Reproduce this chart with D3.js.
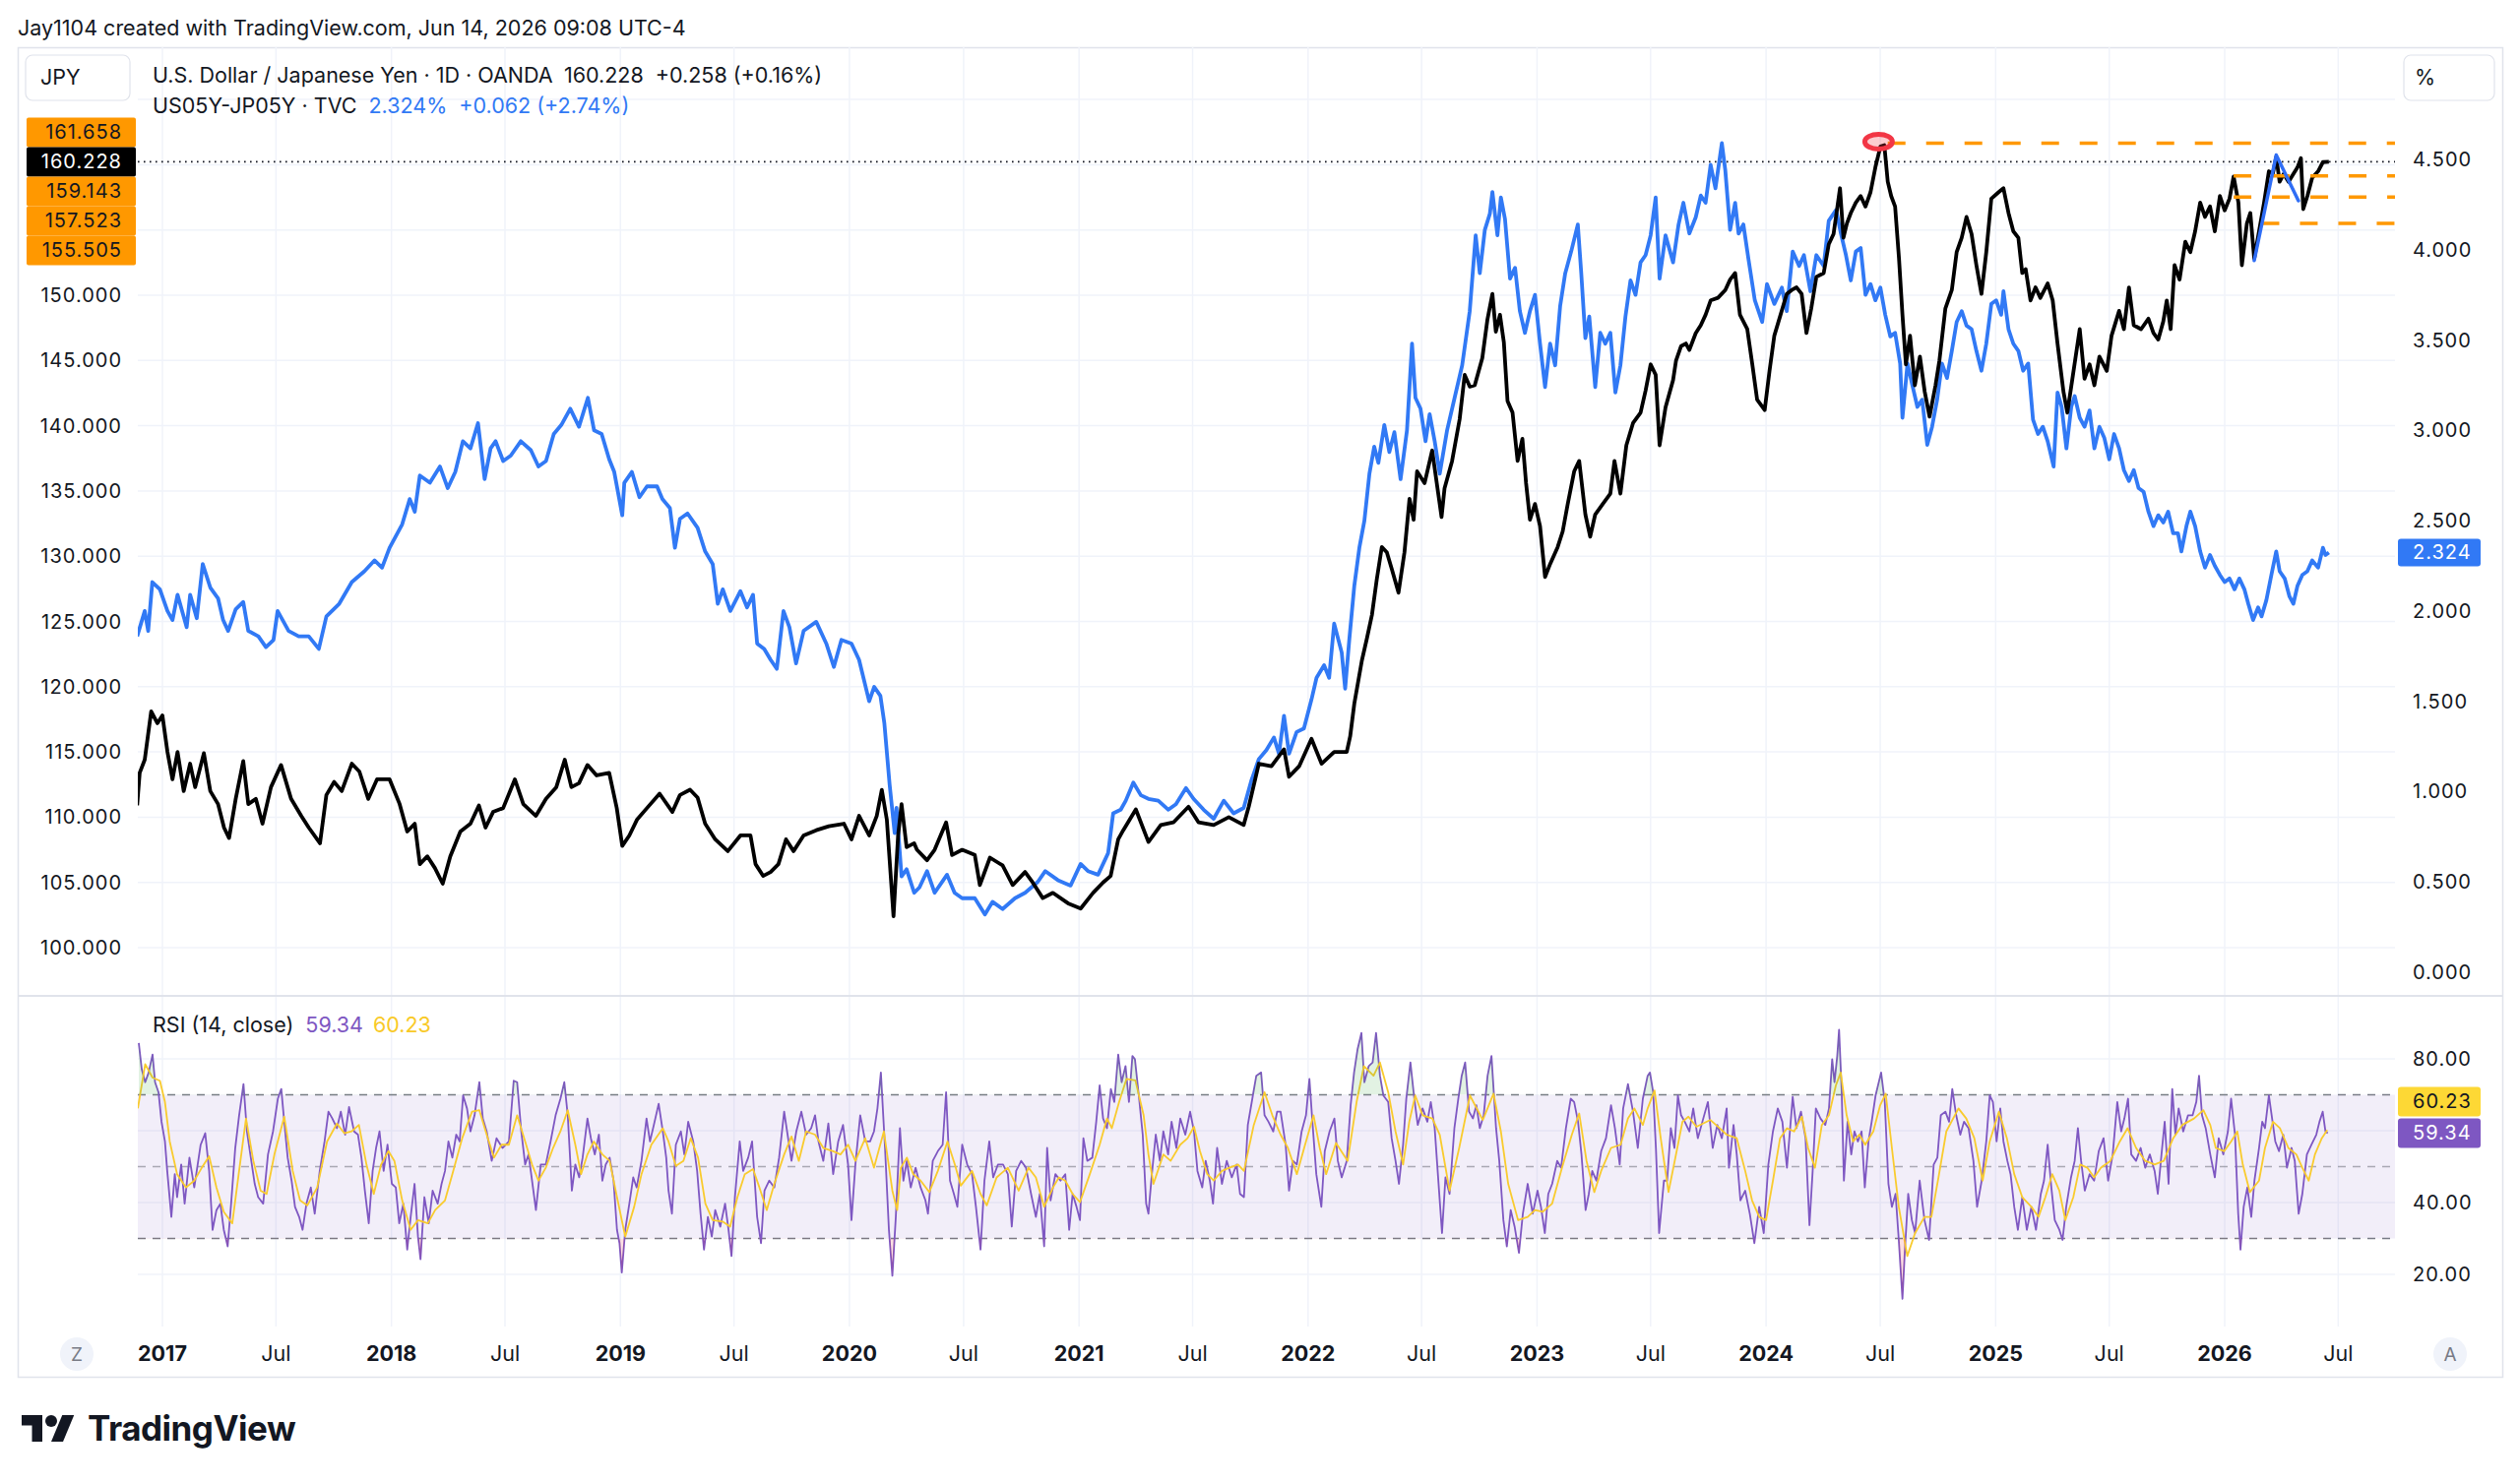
<!DOCTYPE html>
<html><head><meta charset="utf-8">
<script src="https://cdn.jsdelivr.net/npm/d3@7"></script>
<style>html,body{margin:0;padding:0;background:#fff;} svg{display:block;font-family:Inter,"Noto Sans",sans-serif;}</style>
</head><body><svg id="c" width="2560" height="1507"></svg>
<script>
// ---------------- DATA (time as decimal year) ----------------
const usdjpy = [[2016.890,110.9],[2016.901,113.4],[2016.923,114.4],[2016.951,118.1],[2016.978,117.2],[2017.000,117.8],[2017.022,115.0],[2017.044,112.9],[2017.066,115.0],[2017.093,112.0],[2017.121,114.1],[2017.143,112.3],[2017.181,114.9],[2017.209,112.0],[2017.243,111.0],[2017.269,109.2],[2017.291,108.4],[2017.320,111.4],[2017.353,114.3],[2017.375,111.0],[2017.408,111.4],[2017.437,109.5],[2017.474,112.3],[2017.518,114.0],[2017.562,111.4],[2017.606,110.1],[2017.639,109.2],[2017.688,108.0],[2017.716,111.7],[2017.750,112.7],[2017.783,112.0],[2017.827,114.1],[2017.860,113.5],[2017.899,111.4],[2017.937,112.9],[2017.992,112.9],[2018.036,111.0],[2018.069,108.9],[2018.102,109.5],[2018.124,106.4],[2018.157,107.0],[2018.190,106.1],[2018.224,104.9],[2018.257,107.0],[2018.301,108.9],[2018.345,109.5],[2018.382,110.9],[2018.411,109.2],[2018.444,110.4],[2018.488,110.7],[2018.539,112.9],[2018.576,111.0],[2018.631,110.1],[2018.675,111.4],[2018.720,112.3],[2018.757,114.4],[2018.786,112.3],[2018.819,112.6],[2018.856,114.0],[2018.896,113.2],[2018.951,113.4],[2018.984,110.7],[2019.008,107.8],[2019.039,108.6],[2019.072,109.8],[2019.116,110.7],[2019.171,111.8],[2019.227,110.4],[2019.260,111.7],[2019.304,112.1],[2019.337,111.5],[2019.370,109.5],[2019.414,108.3],[2019.469,107.4],[2019.524,108.6],[2019.568,108.6],[2019.590,106.4],[2019.623,105.5],[2019.656,105.8],[2019.690,106.4],[2019.723,108.3],[2019.756,107.4],[2019.800,108.6],[2019.855,109.0],[2019.910,109.3],[2019.976,109.5],[2020.009,108.3],[2020.042,110.1],[2020.086,108.6],[2020.119,110.1],[2020.141,112.1],[2020.163,109.8],[2020.192,102.4],[2020.212,108.6],[2020.227,111.0],[2020.249,107.7],[2020.282,108.0],
[2020.294,107.5],[2020.338,106.7],[2020.371,107.5],[2020.421,109.6],[2020.447,107.1],[2020.491,107.5],[2020.546,107.1],[2020.568,104.8],[2020.612,106.9],[2020.667,106.3],[2020.711,104.8],[2020.765,105.8],[2020.798,105.0],[2020.842,103.8],[2020.886,104.2],[2020.952,103.4],[2021.007,103.0],[2021.061,104.2],[2021.105,105.0],[2021.138,105.5],[2021.171,108.3],[2021.193,109.0],[2021.248,110.6],[2021.303,108.1],[2021.357,109.4],[2021.412,109.6],[2021.478,110.8],[2021.522,109.6],[2021.588,109.4],[2021.654,110.0],[2021.719,109.4],[2021.741,110.8],[2021.785,114.1],[2021.840,113.9],[2021.895,115.2],[2021.917,113.1],[2021.961,113.9],[2022.015,116.0],[2022.059,114.1],[2022.114,115.0],[2022.169,115.0],[2022.184,116.2],[2022.202,118.7],[2022.235,122.0],[2022.257,123.7],[2022.279,125.5],[2022.300,128.2],[2022.322,130.7],[2022.344,130.3],[2022.366,129.0],[2022.395,127.2],[2022.421,130.3],[2022.443,134.4],[2022.461,132.8],[2022.476,136.5],[2022.509,135.6],[2022.542,138.1],[2022.583,133.0],[2022.596,135.2],[2022.629,137.3],[2022.662,140.5],[2022.684,143.9],[2022.706,143.0],[2022.728,143.1],[2022.761,145.2],[2022.783,148.1],[2022.805,150.1],[2022.820,147.2],[2022.838,148.5],[2022.855,146.4],[2022.871,141.9],[2022.893,141.0],[2022.915,137.3],[2022.936,139.0],[2022.952,135.6],[2022.969,132.8],[2022.991,134.0],[2023.013,132.3],[2023.035,128.4],[2023.057,129.4],[2023.090,130.7],[2023.112,131.9],[2023.134,134.0],[2023.162,136.5],[2023.184,137.3],[2023.211,133.2],[2023.232,131.5],[2023.254,133.2],[2023.287,134.0],[2023.320,134.8],[2023.338,137.3],[2023.364,134.8],[2023.390,138.5],[2023.419,140.2],[2023.452,141.0],[2023.474,142.7],[2023.496,144.7],[2023.518,143.9],[2023.535,138.5],[2023.561,141.4],[2023.594,143.5],
[2023.607,145.0],[2023.629,146.1],[2023.650,146.3],[2023.665,145.8],[2023.693,147.1],[2023.715,147.7],[2023.736,148.5],[2023.758,149.6],[2023.790,149.8],[2023.822,150.4],[2023.843,151.2],[2023.865,151.7],[2023.886,148.5],[2023.918,147.4],[2023.940,144.7],[2023.961,142.0],[2023.994,141.2],[2024.015,144.2],[2024.036,146.9],[2024.058,148.2],[2024.090,150.1],[2024.112,150.4],[2024.133,150.6],[2024.155,150.1],[2024.176,147.1],[2024.197,149.0],[2024.219,151.4],[2024.251,151.7],[2024.273,153.9],[2024.294,154.7],[2024.322,158.2],[2024.337,154.4],[2024.352,155.5],[2024.369,156.3],[2024.391,157.1],[2024.412,157.6],[2024.433,156.8],[2024.455,157.9],[2024.476,159.8],[2024.498,161.4],[2024.515,161.5],[2024.530,158.7],[2024.545,157.6],[2024.562,156.8],[2024.579,152.8],[2024.594,148.5],[2024.609,144.7],[2024.627,146.9],[2024.648,143.1],[2024.670,145.3],[2024.691,142.6],[2024.712,140.7],[2024.738,143.1],[2024.755,145.0],[2024.781,149.0],[2024.809,150.4],[2024.830,153.3],[2024.852,154.4],[2024.873,156.0],[2024.895,154.7],[2024.916,152.3],[2024.938,150.1],[2024.959,153.3],[2024.981,157.4],[2025.013,157.9],[2025.034,158.2],[2025.056,156.3],[2025.077,154.9],[2025.099,154.4],[2025.116,151.7],[2025.131,152.0],[2025.152,149.6],[2025.174,150.6],[2025.195,149.8],[2025.227,150.9],[2025.249,149.6],[2025.270,146.3],[2025.296,142.6],[2025.313,141.0],[2025.335,143.6],[2025.367,147.4],[2025.388,143.6],[2025.410,144.7],[2025.431,143.1],[2025.453,145.3],[2025.485,144.2],[2025.506,146.9],[2025.539,148.8],[2025.560,147.4],[2025.582,150.6],[2025.603,147.7],[2025.635,147.4],[2025.667,148.2],[2025.689,147.1],[2025.710,146.6],[2025.732,148.0],[2025.747,149.6],[2025.764,147.4],[2025.781,152.3],[2025.803,151.2],[2025.828,154.1],[2025.850,153.3],[2025.871,154.9],[2025.893,157.1],[2025.914,156.0],[2025.936,156.8],[2025.957,154.9],[2025.979,157.6],[2026.000,156.5],[2026.021,157.4],[2026.039,159.1],[2026.060,157.1],[2026.075,152.3],[2026.097,155.5],[2026.112,156.3],[2026.129,152.8],[2026.150,154.9],[2026.172,157.1],[2026.193,159.5],[2026.210,159.3],[2026.225,160.6],[2026.240,158.7],[2026.258,159.3],[2026.279,158.7],[2026.300,159.3],[2026.318,159.8],[2026.333,160.5],[2026.343,156.6],[2026.361,157.6],[2026.382,159.0],[2026.408,159.5],[2026.429,160.2],[2026.455,160.228]];

const spread = [[2016.890,1.86],[2016.923,2.00],[2016.938,1.89],[2016.956,2.16],[2016.989,2.12],[2017.022,2.00],[2017.044,1.95],[2017.066,2.09],[2017.106,1.91],[2017.121,2.09],[2017.150,1.96],[2017.176,2.26],[2017.209,2.13],[2017.243,2.07],[2017.265,1.95],[2017.287,1.89],[2017.320,2.01],[2017.353,2.05],[2017.375,1.89],[2017.419,1.86],[2017.452,1.80],[2017.485,1.84],[2017.503,2.00],[2017.551,1.89],[2017.595,1.86],[2017.639,1.86],[2017.683,1.79],[2017.716,1.97],[2017.772,2.04],[2017.827,2.16],[2017.882,2.22],[2017.926,2.28],[2017.959,2.24],[2017.992,2.35],[2018.047,2.48],[2018.080,2.62],[2018.102,2.55],[2018.124,2.75],[2018.168,2.71],[2018.212,2.80],[2018.246,2.68],[2018.279,2.77],[2018.312,2.94],[2018.345,2.90],[2018.378,3.04],[2018.407,2.73],[2018.433,2.90],[2018.455,2.94],[2018.488,2.83],[2018.521,2.86],[2018.565,2.94],[2018.609,2.89],[2018.642,2.80],[2018.675,2.83],[2018.709,2.98],[2018.742,3.03],[2018.781,3.12],[2018.819,3.02],[2018.858,3.18],[2018.885,3.00],[2018.918,2.98],[2018.951,2.84],[2018.973,2.77],[2019.008,2.53],[2019.017,2.71],[2019.050,2.77],[2019.083,2.63],[2019.116,2.69],[2019.160,2.69],[2019.183,2.62],[2019.216,2.57],[2019.238,2.35],[2019.260,2.51],[2019.293,2.54],[2019.337,2.46],[2019.370,2.33],[2019.403,2.26],[2019.425,2.04],[2019.447,2.12],[2019.480,2.00],[2019.524,2.11],[2019.553,2.02],[2019.579,2.09],[2019.597,1.82],[2019.628,1.79],[2019.656,1.73],[2019.683,1.68],[2019.712,2.00],[2019.738,1.91],[2019.767,1.71],[2019.800,1.89],[2019.855,1.94],[2019.899,1.82],[2019.932,1.69],[2019.965,1.84],[2020.009,1.82],[2020.042,1.73],[2020.086,1.50],[2020.108,1.58],[2020.135,1.53],[2020.152,1.38],[2020.175,1.04],[2020.197,0.77],[2020.205,0.91],[2020.227,0.53],[2020.249,0.57],[2020.282,0.44],
[2020.305,0.47],[2020.338,0.56],[2020.371,0.44],[2020.425,0.54],[2020.458,0.44],[2020.491,0.41],[2020.546,0.41],[2020.590,0.32],[2020.623,0.39],[2020.667,0.35],[2020.721,0.41],[2020.765,0.44],[2020.820,0.50],[2020.853,0.56],[2020.908,0.51],[2020.963,0.48],[2021.007,0.60],[2021.039,0.56],[2021.083,0.54],[2021.127,0.66],[2021.149,0.88],[2021.182,0.90],[2021.204,0.95],[2021.237,1.05],[2021.270,0.98],[2021.303,0.96],[2021.346,0.95],[2021.390,0.90],[2021.423,0.93],[2021.467,1.02],[2021.500,0.96],[2021.544,0.90],[2021.588,0.85],[2021.632,0.95],[2021.675,0.88],[2021.719,0.91],[2021.752,1.06],[2021.785,1.18],[2021.818,1.23],[2021.851,1.30],[2021.873,1.21],[2021.895,1.42],[2021.917,1.21],[2021.950,1.33],[2021.982,1.35],[2022.015,1.51],[2022.037,1.63],[2022.070,1.70],[2022.092,1.63],[2022.114,1.93],[2022.147,1.77],[2022.162,1.57],[2022.180,1.84],[2022.202,2.14],[2022.224,2.35],[2022.246,2.50],[2022.268,2.76],[2022.289,2.91],[2022.307,2.82],[2022.333,3.03],[2022.355,2.88],[2022.377,2.99],[2022.404,2.73],[2022.432,3.00],[2022.454,3.48],[2022.469,3.18],[2022.491,3.12],[2022.513,2.94],[2022.531,3.09],[2022.553,2.94],[2022.575,2.76],[2022.607,3.00],[2022.640,3.18],[2022.673,3.36],[2022.706,3.66],[2022.732,4.08],[2022.750,3.87],[2022.772,4.11],[2022.794,4.20],[2022.805,4.32],[2022.827,4.08],[2022.842,4.29],[2022.860,4.17],[2022.882,3.84],[2022.904,3.90],[2022.925,3.66],[2022.947,3.54],[2022.969,3.66],[2022.991,3.75],[2023.013,3.48],[2023.035,3.24],[2023.057,3.48],[2023.079,3.36],[2023.101,3.69],[2023.123,3.87],[2023.149,3.99],[2023.178,4.14],[2023.193,3.87],[2023.211,3.51],[2023.228,3.63],[2023.254,3.24],[2023.276,3.54],[2023.298,3.48],[2023.320,3.54],[2023.342,3.21],[2023.364,3.36],[2023.386,3.63],[2023.408,3.83],[2023.430,3.75],[2023.452,3.93],[2023.474,3.97],[2023.496,4.08],[2023.518,4.29],[2023.535,3.84],[2023.561,4.08],[2023.594,3.93],
[2023.618,4.14],[2023.639,4.26],[2023.665,4.09],[2023.693,4.18],[2023.715,4.30],[2023.736,4.26],[2023.758,4.47],[2023.779,4.34],[2023.807,4.59],[2023.822,4.44],[2023.843,4.11],[2023.865,4.26],[2023.880,4.09],[2023.901,4.14],[2023.923,3.95],[2023.951,3.72],[2023.983,3.60],[2024.004,3.81],[2024.036,3.70],[2024.069,3.79],[2024.090,3.66],[2024.116,3.99],[2024.144,3.91],[2024.165,3.97],[2024.193,3.77],[2024.219,3.97],[2024.251,3.91],[2024.273,4.16],[2024.305,4.22],[2024.326,4.09],[2024.348,3.97],[2024.369,3.83],[2024.391,3.99],[2024.412,4.01],[2024.433,3.75],[2024.455,3.81],[2024.476,3.72],[2024.498,3.79],[2024.519,3.64],[2024.541,3.52],[2024.562,3.54],[2024.584,3.37],[2024.594,3.07],[2024.616,3.37],[2024.637,3.25],[2024.659,3.13],[2024.680,3.17],[2024.702,2.92],[2024.723,3.02],[2024.745,3.17],[2024.766,3.37],[2024.788,3.29],[2024.809,3.44],[2024.830,3.60],[2024.852,3.66],[2024.873,3.58],[2024.895,3.56],[2024.916,3.44],[2024.938,3.33],[2024.959,3.48],[2024.981,3.70],[2025.002,3.72],[2025.024,3.64],[2025.034,3.77],[2025.056,3.56],[2025.077,3.48],[2025.099,3.44],[2025.120,3.33],[2025.142,3.37],[2025.163,3.06],[2025.185,2.98],[2025.206,3.02],[2025.227,2.94],[2025.253,2.80],[2025.270,3.21],[2025.288,3.13],[2025.309,2.90],[2025.330,3.13],[2025.345,3.19],[2025.367,3.07],[2025.388,3.02],[2025.410,3.11],[2025.431,2.90],[2025.453,3.02],[2025.474,2.96],[2025.496,2.84],[2025.517,2.98],[2025.539,2.90],[2025.560,2.78],[2025.582,2.72],[2025.603,2.78],[2025.624,2.68],[2025.646,2.66],[2025.667,2.55],[2025.689,2.47],[2025.710,2.53],[2025.732,2.49],[2025.753,2.55],[2025.775,2.43],[2025.796,2.43],[2025.811,2.33],[2025.833,2.47],[2025.850,2.55],[2025.871,2.47],[2025.893,2.33],[2025.914,2.24],[2025.936,2.31],[2025.957,2.25],[2025.979,2.20],[2026.000,2.16],[2026.021,2.18],[2026.043,2.12],[2026.064,2.18],[2026.086,2.12],[2026.103,2.04],[2026.124,1.95],[2026.146,2.02],[2026.161,1.97],[2026.182,2.06],[2026.204,2.20],[2026.225,2.33],[2026.240,2.22],[2026.262,2.18],[2026.283,2.08],[2026.300,2.04],[2026.318,2.14],[2026.339,2.20],[2026.361,2.22],[2026.382,2.28],[2026.408,2.24],[2026.429,2.35],[2026.440,2.31],[2026.455,2.324]];

const rsi = [[2016.897,84.4],[2016.910,77.1],[2016.925,73.5],[2016.940,76.2],[2016.957,81.2],[2016.968,73.5],[2016.983,70.7],[2016.996,62.5],[2017.011,57.0],[2017.021,48.8],[2017.039,36.0],[2017.054,47.9],[2017.064,41.5],[2017.082,50.6],[2017.097,39.7],[2017.118,52.5],[2017.139,44.2],[2017.167,56.1],[2017.187,59.3],[2017.204,48.8],[2017.219,32.4],[2017.236,37.9],[2017.253,39.7],[2017.268,32.4],[2017.285,27.8],[2017.300,39.7],[2017.318,55.2],[2017.335,64.3],[2017.354,73.0],[2017.369,59.8],[2017.386,52.5],[2017.403,45.2],[2017.418,41.5],[2017.440,39.7],[2017.461,53.4],[2017.483,59.8],[2017.504,68.9],[2017.519,71.6],[2017.532,62.5],[2017.547,52.5],[2017.564,46.1],[2017.579,38.8],[2017.597,36.0],[2017.612,32.4],[2017.629,39.7],[2017.648,44.2],[2017.665,36.9],[2017.687,48.8],[2017.708,57.0],[2017.725,65.3],[2017.742,63.4],[2017.762,60.7],[2017.779,65.3],[2017.798,58.9],[2017.815,66.6],[2017.837,59.8],[2017.854,58.9],[2017.869,52.5],[2017.884,43.3],[2017.901,34.2],[2017.918,48.8],[2017.933,55.2],[2017.948,59.8],[2017.966,48.8],[2017.983,56.1],[2018.002,45.2],[2018.019,44.2],[2018.034,34.2],[2018.052,39.7],[2018.069,26.9],[2018.084,36.0],[2018.101,45.2],[2018.116,30.5],[2018.127,24.2],[2018.144,41.5],[2018.163,34.2],[2018.180,43.3],[2018.202,39.7],[2018.219,45.2],[2018.234,48.8],[2018.249,57.0],[2018.266,52.5],[2018.283,58.9],[2018.298,57.0],[2018.313,69.8],[2018.330,66.2],[2018.345,59.8],[2018.363,64.3],[2018.384,73.5],[2018.399,63.4],[2018.416,59.8],[2018.438,51.6],[2018.459,57.9],[2018.485,55.2],[2018.513,57.0],[2018.534,73.9],[2018.549,73.5],[2018.567,59.8],[2018.584,50.6],[2018.599,53.4],[2018.614,46.1],[2018.631,37.9],[2018.652,50.6],[2018.674,50.6],[2018.695,57.0],[2018.717,64.3],[2018.738,68.9],[2018.755,73.5],[2018.770,64.3],[2018.788,43.3],[2018.803,50.6],[2018.820,47.0],[2018.835,52.5],[2018.856,63.4],[2018.871,57.9],[2018.888,53.4],[2018.906,58.9],[2018.921,46.1],[2018.936,50.6],[2018.953,52.5],[2018.970,46.1],[2018.985,32.4],[2018.996,28.7],[2019.006,20.5],[2019.021,32.4],[2019.039,39.7],[2019.056,47.0],[2019.071,44.2],[2019.092,51.6],[2019.114,63.4],[2019.129,57.0],[2019.146,61.6],[2019.167,67.5],[2019.185,59.8],[2019.200,52.5],[2019.210,43.3],[2019.225,36.9],[2019.242,56.1],[2019.264,59.8],[2019.279,53.4],[2019.296,62.5],[2019.318,57.0],[2019.335,48.8],[2019.350,36.9],[2019.365,26.9],[2019.382,36.0],[2019.399,30.5],[2019.414,37.9],[2019.436,33.3],[2019.457,39.7],[2019.472,32.4],[2019.485,25.1],[2019.500,41.5],[2019.521,57.0],[2019.536,48.8],[2019.558,52.5],[2019.575,57.0],[2019.597,36.0],[2019.614,28.7],[2019.629,43.3],[2019.650,46.1],[2019.672,44.2],[2019.693,52.5],[2019.715,65.3],[2019.730,58.9],[2019.747,51.6],[2019.768,59.8],[2019.790,65.3],[2019.811,58.9],[2019.833,60.7],[2019.850,64.3],[2019.865,57.0],[2019.886,51.6],[2019.908,62.0],[2019.929,47.9],[2019.951,57.0],[2019.972,61.6],[2019.994,50.6],[2020.009,35.1],[2020.026,50.6],[2020.047,64.3],[2020.069,57.0],[2020.090,57.0],[2020.107,59.8],[2020.122,66.2],[2020.137,76.2],[2020.155,55.2],[2020.172,32.4],[2020.187,19.6],[2020.202,36.0],
[2020.220,60.7],[2020.235,46.1],[2020.250,51.6],[2020.267,44.2],[2020.288,49.7],[2020.310,44.2],[2020.331,40.6],[2020.342,36.9],[2020.363,51.6],[2020.385,54.3],[2020.406,56.1],[2020.421,70.7],[2020.438,46.1],[2020.455,42.4],[2020.470,38.8],[2020.491,56.1],[2020.513,50.6],[2020.534,47.9],[2020.551,38.8],[2020.571,26.9],[2020.588,46.1],[2020.609,57.0],[2020.626,47.0],[2020.647,50.6],[2020.669,50.6],[2020.690,47.9],[2020.707,33.3],[2020.726,48.8],[2020.748,51.6],[2020.769,49.7],[2020.791,42.4],[2020.812,36.0],[2020.829,42.4],[2020.848,27.8],[2020.861,55.2],[2020.876,40.6],[2020.897,47.9],[2020.919,46.1],[2020.940,47.9],[2020.957,32.4],[2020.972,42.4],[2020.989,38.8],[2021.004,35.1],[2021.019,57.9],[2021.036,51.6],[2021.058,52.5],[2021.075,62.5],[2021.090,72.6],[2021.105,63.4],[2021.122,60.7],[2021.139,71.6],[2021.154,68.0],[2021.171,81.2],[2021.186,73.5],[2021.203,78.0],[2021.218,68.0],[2021.233,80.8],[2021.244,79.9],[2021.261,69.8],[2021.278,58.9],[2021.293,39.7],[2021.303,36.9],[2021.318,47.9],[2021.335,58.9],[2021.353,51.6],[2021.368,59.8],[2021.389,53.4],[2021.404,62.5],[2021.425,55.2],[2021.442,63.4],[2021.464,58.9],[2021.485,65.3],[2021.502,59.8],[2021.517,48.8],[2021.538,44.2],[2021.553,51.6],[2021.571,46.1],[2021.585,39.7],[2021.603,55.2],[2021.624,45.2],[2021.645,51.6],[2021.667,47.0],[2021.688,50.6],[2021.703,42.4],[2021.720,41.5],[2021.737,61.6],[2021.759,69.8],[2021.774,75.3],[2021.795,76.2],[2021.810,64.3],[2021.827,62.5],[2021.848,59.8],[2021.865,65.3],[2021.880,65.3],[2021.902,56.1],[2021.917,43.3],[2021.934,51.6],[2021.951,50.6],[2021.972,59.8],[2021.991,64.3],[2022.006,74.4],[2022.019,62.5],[2022.036,47.9],[2022.058,38.8],[2022.073,54.3],[2022.094,59.8],[2022.115,63.4],[2022.130,51.6],[2022.147,47.0],[2022.169,51.6],[2022.186,67.1],[2022.201,76.2],[2022.216,82.6],[2022.233,87.2],[2022.246,73.5],[2022.265,78.0],[2022.282,79.0],[2022.297,87.2],[2022.314,75.3],[2022.329,69.8],[2022.350,68.0],[2022.365,57.9],[2022.382,51.6],[2022.397,45.2],[2022.415,56.1],[2022.429,68.9],[2022.447,79.0],[2022.464,68.9],[2022.479,61.6],[2022.500,66.2],[2022.521,62.5],[2022.536,68.0],[2022.553,60.7],[2022.571,44.2],[2022.585,31.5],[2022.600,47.0],[2022.618,42.4],[2022.639,60.7],[2022.656,68.9],[2022.671,75.3],[2022.686,79.0],[2022.703,65.3],[2022.720,63.4],[2022.735,67.1],[2022.750,60.7],[2022.767,64.3],[2022.784,75.3],[2022.801,80.8],[2022.821,60.7],[2022.835,51.6],[2022.853,35.1],[2022.868,27.8],[2022.885,37.9],[2022.902,33.3],[2022.921,26.0],[2022.938,36.9],[2022.959,45.2],[2022.981,36.9],[2023.002,43.3],[2023.017,38.8],[2023.034,31.5],[2023.049,42.4],[2023.066,45.2],[2023.088,51.6],[2023.105,49.7],[2023.126,60.7],[2023.147,68.9],[2023.162,68.0],[2023.179,62.5],[2023.194,53.4],[2023.212,37.9],[2023.226,42.4],[2023.241,48.8],[2023.259,46.1],[2023.280,54.3],[2023.301,57.9],[2023.323,67.1],[2023.340,60.7],[2023.361,50.6],[2023.376,66.2],[2023.397,73.0],[2023.419,65.3],[2023.440,55.2],[2023.462,68.9],
[2023.483,75.3],[2023.493,76.2],[2023.507,70.7],[2023.519,55.2],[2023.533,31.5],[2023.554,46.1],[2023.568,46.1],[2023.584,60.7],[2023.600,55.2],[2023.615,69.8],[2023.629,64.3],[2023.645,62.5],[2023.665,59.8],[2023.682,66.2],[2023.702,57.9],[2023.722,62.5],[2023.746,68.0],[2023.767,55.2],[2023.787,61.6],[2023.807,57.9],[2023.828,66.2],[2023.838,49.7],[2023.858,61.6],[2023.872,53.4],[2023.888,40.6],[2023.909,43.3],[2023.929,36.9],[2023.949,28.7],[2023.970,38.8],[2023.990,31.5],[2024.010,50.6],[2024.030,59.8],[2024.051,66.2],[2024.071,62.5],[2024.091,49.7],[2024.116,69.4],[2024.132,60.7],[2024.152,65.3],[2024.172,57.9],[2024.189,33.7],[2024.203,48.8],[2024.217,66.2],[2024.237,63.4],[2024.258,61.6],[2024.274,66.2],[2024.288,79.9],[2024.298,73.5],[2024.310,80.8],[2024.318,88.1],[2024.329,71.6],[2024.339,46.1],[2024.355,62.5],[2024.371,53.4],[2024.385,59.8],[2024.400,57.0],[2024.416,59.8],[2024.430,44.2],[2024.446,57.0],[2024.460,62.5],[2024.477,69.8],[2024.501,76.2],[2024.517,68.0],[2024.533,45.2],[2024.548,38.8],[2024.564,42.4],[2024.578,29.6],[2024.594,13.2],[2024.604,26.0],[2024.619,42.4],[2024.635,35.1],[2024.649,31.5],[2024.669,46.1],[2024.690,35.1],[2024.710,29.6],[2024.730,50.6],[2024.746,52.5],[2024.761,64.3],[2024.781,65.3],[2024.797,62.5],[2024.811,71.6],[2024.828,64.3],[2024.846,58.9],[2024.862,62.5],[2024.882,60.7],[2024.903,51.6],[2024.919,38.8],[2024.939,46.1],[2024.959,57.0],[2024.974,69.8],[2024.988,68.0],[2025.004,57.0],[2025.020,66.2],[2025.034,57.0],[2025.051,51.6],[2025.065,47.9],[2025.081,38.8],[2025.097,32.4],[2025.116,41.5],[2025.136,32.4],[2025.156,38.8],[2025.176,32.4],[2025.197,42.4],[2025.211,46.1],[2025.227,56.1],[2025.243,44.2],[2025.258,35.1],[2025.278,32.4],[2025.292,29.6],[2025.308,38.8],[2025.329,47.0],[2025.345,51.6],[2025.359,60.7],[2025.373,51.6],[2025.389,43.3],[2025.410,47.9],[2025.430,46.1],[2025.450,54.3],[2025.471,57.9],[2025.491,46.1],[2025.511,53.4],[2025.531,68.0],[2025.548,59.8],[2025.562,63.4],[2025.578,68.9],[2025.592,53.4],[2025.613,51.6],[2025.633,55.2],[2025.653,49.7],[2025.673,53.4],[2025.694,48.8],[2025.708,42.4],[2025.724,53.4],[2025.738,62.5],[2025.755,45.2],[2025.771,71.6],[2025.785,58.9],[2025.799,66.2],[2025.819,59.8],[2025.840,64.3],[2025.860,64.3],[2025.876,68.0],[2025.888,75.3],[2025.901,64.3],[2025.917,60.7],[2025.937,53.4],[2025.957,47.0],[2025.974,57.9],[2025.994,53.4],[2026.014,59.8],[2026.028,68.9],[2026.045,58.9],[2026.059,36.9],[2026.069,26.9],[2026.083,38.8],[2026.099,44.2],[2026.116,36.0],[2026.130,46.1],[2026.150,55.2],[2026.164,62.5],[2026.176,60.7],[2026.193,69.8],[2026.209,62.5],[2026.221,57.0],[2026.237,54.3],[2026.256,58.9],[2026.272,49.7],[2026.292,55.2],[2026.306,51.6],[2026.323,36.9],[2026.339,42.4],[2026.359,53.4],[2026.379,56.1],[2026.400,58.9],[2026.414,62.5],[2026.428,65.3],[2026.440,59.8],[2026.450,59.34]];

const rsiMA = [[2016.893,66.2],[2016.925,78.5],[2016.957,74.8],[2016.989,73.9],[2017.011,68.0],[2017.032,57.0],[2017.064,47.9],[2017.103,44.2],[2017.139,46.1],[2017.172,49.7],[2017.204,52.9],[2017.236,44.2],[2017.268,37.4],[2017.305,34.2],[2017.333,47.9],[2017.365,63.4],[2017.397,51.6],[2017.429,43.3],[2017.455,42.4],[2017.489,53.4],[2017.532,63.9],[2017.569,48.8],[2017.601,40.6],[2017.633,39.2],[2017.676,44.2],[2017.719,57.0],[2017.762,62.0],[2017.794,59.3],[2017.826,59.8],[2017.858,61.6],[2017.891,50.6],[2017.923,42.4],[2017.955,50.6],[2017.987,54.3],[2018.013,51.6],[2018.047,40.6],[2018.084,32.4],[2018.116,35.1],[2018.159,34.2],[2018.191,37.9],[2018.234,40.6],[2018.266,47.9],[2018.309,57.9],[2018.352,65.3],[2018.384,65.7],[2018.416,58.9],[2018.448,52.5],[2018.481,56.1],[2018.513,56.1],[2018.549,64.3],[2018.584,57.0],[2018.614,50.6],[2018.642,46.1],[2018.674,49.7],[2018.706,55.2],[2018.738,59.8],[2018.770,65.7],[2018.803,56.1],[2018.828,47.9],[2018.856,53.4],[2018.884,57.0],[2018.921,53.4],[2018.953,51.6],[2018.985,41.5],[2019.021,30.5],[2019.060,38.8],[2019.092,47.9],[2019.135,56.1],[2019.185,60.7],[2019.210,57.0],[2019.242,50.2],[2019.275,51.6],[2019.307,57.9],[2019.339,52.5],[2019.371,39.7],[2019.403,35.1],[2019.446,34.7],[2019.479,33.3],[2019.511,41.5],[2019.543,47.9],[2019.579,49.3],[2019.607,44.2],[2019.639,37.9],[2019.672,45.2],[2019.715,53.4],[2019.747,58.4],[2019.779,51.6],[2019.811,59.8],[2019.850,58.9],[2019.886,55.2],[2019.929,54.3],[2019.961,53.4],[2019.994,56.1],[2020.026,51.6],[2020.069,57.9],[2020.107,49.7],[2020.150,59.8],[2020.187,43.3],[2020.208,37.9],
[2020.224,49.7],[2020.250,52.5],[2020.278,47.9],[2020.310,46.1],[2020.348,42.9],[2020.385,48.8],[2020.427,57.0],[2020.459,50.6],[2020.485,44.7],[2020.534,48.8],[2020.571,42.4],[2020.598,39.2],[2020.641,47.0],[2020.690,49.7],[2020.737,43.3],[2020.780,49.7],[2020.812,47.0],[2020.848,38.8],[2020.887,44.2],[2020.912,47.0],[2020.940,46.1],[2020.972,42.4],[2021.004,40.1],[2021.047,47.9],[2021.090,56.1],[2021.122,63.4],[2021.143,60.7],[2021.175,68.0],[2021.207,74.4],[2021.246,74.0],[2021.282,64.3],[2021.303,53.4],[2021.325,45.2],[2021.368,53.4],[2021.400,51.6],[2021.442,56.1],[2021.474,57.9],[2021.502,61.1],[2021.528,54.3],[2021.560,47.9],[2021.588,46.1],[2021.624,48.8],[2021.656,49.7],[2021.694,50.6],[2021.720,48.8],[2021.763,61.6],[2021.810,70.7],[2021.844,64.3],[2021.880,58.9],[2021.912,55.2],[2021.951,47.9],[2021.987,56.1],[2022.024,64.3],[2022.051,55.2],[2022.079,47.9],[2022.122,56.6],[2022.173,51.6],[2022.212,68.0],[2022.244,78.0],[2022.286,75.3],[2022.314,79.0],[2022.350,70.7],[2022.382,59.8],[2022.415,50.6],[2022.442,62.5],[2022.468,69.8],[2022.500,64.3],[2022.543,63.4],[2022.575,58.9],[2022.618,43.3],[2022.660,55.2],[2022.707,69.8],[2022.763,63.0],[2022.810,70.3],[2022.842,59.8],[2022.874,45.2],[2022.917,35.1],[2022.959,36.0],[2022.991,37.9],[2023.024,37.4],[2023.066,39.7],[2023.109,49.7],[2023.152,58.9],[2023.184,64.8],[2023.216,51.6],[2023.250,42.9],[2023.280,48.8],[2023.323,55.2],[2023.365,56.1],[2023.397,63.4],[2023.425,66.2],[2023.462,61.6],
[2023.483,66.2],[2023.513,71.2],[2023.540,57.9],[2023.574,42.9],[2023.604,52.5],[2023.635,62.5],[2023.661,63.9],[2023.696,61.1],[2023.757,63.0],[2023.797,60.7],[2023.828,58.9],[2023.872,57.9],[2023.909,48.8],[2023.939,40.6],[2023.970,36.0],[2024.000,35.1],[2024.030,46.1],[2024.061,57.9],[2024.091,60.7],[2024.122,59.8],[2024.156,63.9],[2024.183,55.2],[2024.213,49.7],[2024.243,61.6],[2024.274,64.3],[2024.304,72.6],[2024.325,76.2],[2024.351,64.3],[2024.379,57.0],[2024.406,58.9],[2024.432,56.1],[2024.467,59.8],[2024.497,67.1],[2024.521,70.3],[2024.548,55.2],[2024.578,38.8],[2024.615,25.1],[2024.649,31.5],[2024.690,36.0],[2024.720,36.0],[2024.751,47.0],[2024.785,59.8],[2024.838,66.2],[2024.872,63.4],[2024.907,57.9],[2024.943,46.1],[2024.974,57.0],[2025.014,65.3],[2025.049,57.9],[2025.081,47.9],[2025.116,41.5],[2025.156,38.8],[2025.187,36.0],[2025.217,41.5],[2025.247,47.9],[2025.278,43.3],[2025.304,35.1],[2025.339,41.5],[2025.369,50.6],[2025.400,49.7],[2025.430,47.0],[2025.460,49.7],[2025.501,51.6],[2025.542,57.0],[2025.576,60.7],[2025.613,55.2],[2025.653,51.6],[2025.694,50.6],[2025.734,51.6],[2025.775,57.9],[2025.815,61.6],[2025.866,63.4],[2025.907,65.7],[2025.937,61.6],[2025.961,55.2],[2025.998,54.3],[2026.028,57.0],[2026.055,59.8],[2026.079,50.6],[2026.110,42.9],[2026.150,46.1],[2026.176,55.2],[2026.211,62.5],[2026.241,60.7],[2026.278,55.2],[2026.313,53.4],[2026.339,49.7],[2026.367,46.1],[2026.394,53.4],[2026.424,57.9],[2026.448,60.23]];

// levels / annotations
const priceLevels = [161.658, 160.228, 159.143, 157.523, 155.505];
const lastPrice = 160.228;
const rayStarts = [[161.658, 2024.53], [159.143, 2026.039], [157.523, 2026.039], [155.505, 2026.161]];
const zigzag = [[2026.129,152.66],[2026.225,160.74],[2026.322,157.24]];
const highlight = [2024.49, 161.77];
const lastSpread = 2.324, lastRsi = 59.34, lastRsiMA = 60.23;
const leftTicks = d3.range(100, 166, 5);
const rightTicks = d3.range(0, 4.51, 0.5);
const rsiGridTicks = [20, 40, 60, 80];
const rsiLevels = [70, 50, 30];

// ---------------- SCALES ----------------
const dec = y => { const yr = Math.floor(y); const a = Date.UTC(yr,0,1), b = Date.UTC(yr+1,0,1); return new Date(a + (y-yr)*(b-a)); };
const P = {x0:140, x1:2433, top:48, mainBot:1012, rsiBot:1348, fx0:18, fx1:2542, fy1:1399};
const x = d3.scaleUtc().domain([new Date(Date.UTC(2017,0,1)), new Date(Date.UTC(2026,0,1))]).range([165, 2260]);
const yJ = d3.scaleLinear().domain([100,150]).range([963,300]);
const yP = d3.scaleLinear().domain([0,4.5]).range([988,162]);
const yR = d3.scaleLinear().domain([20,80]).range([1295,1076]);

const TXT = "#131722", BLUE = "#3179f5", PURPLE = "#7e57c2", YELLOW = "#f9cb2e", ORANGE = "#ff9800", GRID = "#f0f3fa", BORDER = "#e0e3eb";
const svg = d3.select("#c");
svg.append("rect").attr("width",2560).attr("height",1507).attr("fill","#fff");

const defs = svg.append("defs");
defs.append("clipPath").attr("id","mainClip").append("rect").attr("x",P.x0).attr("y",P.top).attr("width",P.x1-P.x0).attr("height",P.mainBot-P.top);
defs.append("clipPath").attr("id","rsiClip").append("rect").attr("x",P.x0).attr("y",P.mainBot).attr("width",P.x1-P.x0).attr("height",P.rsiBot-P.mainBot);
defs.append("clipPath").attr("id","obClip").append("rect").attr("x",P.x0).attr("y",P.mainBot).attr("width",P.x1-P.x0).attr("height",yR(70)-P.mainBot);
defs.append("clipPath").attr("id","osClip").append("rect").attr("x",P.x0).attr("y",yR(30)).attr("width",P.x1-P.x0).attr("height",P.rsiBot-yR(30));

const FS = 21.5, NFS = 20, NLS = 1.0;

// header
svg.append("text").attr("x",18).attr("y",36).attr("font-size",FS).attr("fill",TXT).text("Jay1104 created with TradingView.com, Jun 14, 2026 09:08 UTC-4");

// frame
svg.append("rect").attr("x",P.fx0+0.5).attr("y",P.top+0.5).attr("width",P.fx1-P.fx0).attr("height",P.fy1-P.top).attr("fill","none").attr("stroke",BORDER).attr("stroke-width",1.5);

// vertical grid
const xTicks = d3.utcMonth.every(6).range(new Date(Date.UTC(2017,0,1)), new Date(Date.UTC(2026,7,1)));
svg.append("g").selectAll("line").data(xTicks).join("line")
  .attr("x1",d=>x(d)).attr("x2",d=>x(d)).attr("y1",P.top).attr("y2",P.rsiBot)
  .attr("stroke",GRID).attr("stroke-width",1.5);

// horizontal grid main
svg.append("g").selectAll("line").data(leftTicks).join("line")
  .attr("x1",P.x0).attr("x2",P.x1).attr("y1",d=>yJ(d)).attr("y2",d=>yJ(d))
  .attr("stroke",GRID).attr("stroke-width",1.5);
// rsi grid
svg.append("g").selectAll("line").data(rsiGridTicks).join("line")
  .attr("x1",P.x0).attr("x2",P.x1).attr("y1",d=>yR(d)).attr("y2",d=>yR(d))
  .attr("stroke",GRID).attr("stroke-width",1.5);

// pane separator
svg.append("line").attr("x1",P.fx0).attr("x2",P.fx1).attr("y1",P.mainBot).attr("y2",P.mainBot).attr("stroke",BORDER).attr("stroke-width",2);

// ---------------- MAIN PANE ----------------
const gMain = svg.append("g").attr("clip-path","url(#mainClip)");
gMain.append("line").attr("x1",P.x0).attr("x2",P.x1).attr("y1",yJ(lastPrice)).attr("y2",yJ(lastPrice))
  .attr("stroke",TXT).attr("stroke-width",1.6).attr("stroke-dasharray","1.6,4.4");
const lineP = d3.line().x(d=>x(dec(d[0]))).y(d=>yP(d[1]));
const lineJ = d3.line().x(d=>x(dec(d[0]))).y(d=>yJ(d[1]));
gMain.append("path").attr("d",lineP(spread)).attr("fill","none").attr("stroke",BLUE).attr("stroke-width",3.8).attr("stroke-linejoin","round");
gMain.append("path").attr("d",lineJ(usdjpy)).attr("fill","none").attr("stroke","#000").attr("stroke-width",3.8).attr("stroke-linejoin","round");
gMain.append("g").selectAll("line").data(rayStarts).join("line")
  .attr("x1",d=>x(dec(d[1]))).attr("x2",P.x1).attr("y1",d=>yJ(d[0])).attr("y2",d=>yJ(d[0]))
  .attr("stroke",ORANGE).attr("stroke-width",3.5).attr("stroke-dasharray","18,21");
gMain.append("path").attr("d",lineJ(zigzag)).attr("fill","none").attr("stroke","#2f6df5").attr("stroke-width",3.5).attr("stroke-linejoin","round").attr("stroke-linecap","round");
gMain.append("ellipse").attr("cx",x(dec(highlight[0]))).attr("cy",yJ(highlight[1])).attr("rx",14).attr("ry",7.5)
  .attr("fill","rgba(242,54,69,0.25)").attr("stroke","#f23645").attr("stroke-width",5);

// ---------------- RSI PANE ----------------
const gR = svg.append("g").attr("clip-path","url(#rsiClip)");
gR.append("rect").attr("x",P.x0).attr("width",P.x1-P.x0).attr("y",yR(70)).attr("height",yR(30)-yR(70)).attr("fill","rgba(126,87,194,0.1)");
gR.append("g").selectAll("line").data(rsiLevels).join("line")
  .attr("x1",P.x0).attr("x2",P.x1).attr("y1",d=>yR(d)).attr("y2",d=>yR(d))
  .attr("stroke","#787b86").attr("stroke-opacity",d=>d===50?0.6:1).attr("stroke-width",1.6).attr("stroke-dasharray","8,7");
const areaOB = d3.area().x(d=>x(dec(d[0]))).y0(yR(70)).y1(d=>yR(d[1]));
svg.append("path").attr("clip-path","url(#obClip)").attr("d",areaOB(rsi)).attr("fill","rgba(76,175,80,0.16)");
const areaOS = d3.area().x(d=>x(dec(d[0]))).y0(yR(30)).y1(d=>yR(d[1]));
svg.append("path").attr("clip-path","url(#osClip)").attr("d",areaOS(rsi)).attr("fill","rgba(242,54,69,0.16)");
const lineR = d3.line().x(d=>x(dec(d[0]))).y(d=>yR(d[1]));
gR.append("path").attr("d",lineR(rsi)).attr("fill","none").attr("stroke",PURPLE).attr("stroke-width",1.8).attr("stroke-linejoin","round");
gR.append("path").attr("d",lineR(rsiMA)).attr("fill","none").attr("stroke",YELLOW).attr("stroke-width",1.8).attr("stroke-linejoin","round");

// ---------------- AXES / LABELS ----------------
const fmt3 = d3.format(".3f"), fmt2 = d3.format(".2f");
const BH = 30;
const lab = priceLevels.map(v=>({v, y:yJ(v), cur: v===lastPrice}));
const ci = lab.findIndex(d=>d.cur);
for (let i=ci-1;i>=0;i--) lab[i].y = Math.min(lab[i].y, lab[i+1].y - BH);
for (let i=ci+1;i<lab.length;i++) lab[i].y = Math.max(lab[i].y, lab[i-1].y + BH);
const boxTop = lab[0].y - BH/2, boxBot = lab[lab.length-1].y + BH/2;
svg.append("g").selectAll("text").data(leftTicks.filter(v=>yJ(v)>boxBot+20 || yJ(v)<boxTop-20)).join("text")
  .attr("x",124).attr("y",d=>yJ(d)+7).attr("text-anchor","end").attr("font-size",NFS).attr("letter-spacing",NLS).attr("fill",TXT).text(d=>fmt3(d));
const gL = svg.append("g");
gL.selectAll("rect").data(lab).join("rect")
  .attr("x",27).attr("width",111).attr("y",d=>d.y-BH/2).attr("height",BH).attr("rx",2)
  .attr("fill",d=>d.cur?"#000":ORANGE);
gL.selectAll("text").data(lab).join("text")
  .attr("x",124).attr("y",d=>d.y+7).attr("text-anchor","end").attr("font-size",NFS).attr("letter-spacing",NLS)
  .attr("fill",d=>d.cur?"#fff":"#131722").text(d=>fmt3(d.v));

// right % labels
const spY = yP(lastSpread);
svg.append("g").selectAll("text").data(rightTicks.filter(v=>Math.abs(yP(v)-spY)>24)).join("text")
  .attr("x",2451).attr("y",d=>yP(d)+7).attr("font-size",NFS).attr("letter-spacing",NLS).attr("fill",TXT).text(d=>fmt3(d));
svg.append("rect").attr("x",2436).attr("width",84).attr("y",spY-14).attr("height",28).attr("rx",3).attr("fill",BLUE);
svg.append("text").attr("x",2451).attr("y",spY+7).attr("font-size",NFS).attr("letter-spacing",NLS).attr("fill","#fff").text(fmt3(lastSpread));

// right RSI labels
const rY = yR(lastRsi), maY = Math.min(yR(lastRsiMA), rY - 32);
svg.append("g").selectAll("text").data(rsiGridTicks.filter(v=>Math.abs(yR(v)-rY)>24 && Math.abs(yR(v)-maY)>24)).join("text")
  .attr("x",2451).attr("y",d=>yR(d)+7).attr("font-size",NFS).attr("letter-spacing",NLS).attr("fill",TXT).text(d=>fmt2(d));
svg.append("rect").attr("x",2436).attr("width",84).attr("y",maY-15).attr("height",30).attr("rx",3).attr("fill","#fdd835");
svg.append("text").attr("x",2451).attr("y",maY+7).attr("font-size",NFS).attr("letter-spacing",NLS).attr("fill","#131722").text(fmt2(lastRsiMA));
svg.append("rect").attr("x",2436).attr("width",84).attr("y",rY-15).attr("height",30).attr("rx",3).attr("fill",PURPLE);
svg.append("text").attr("x",2451).attr("y",rY+7).attr("font-size",NFS).attr("letter-spacing",NLS).attr("fill","#fff").text(fmt2(lastRsi));

// x-axis labels
svg.append("g").selectAll("text").data(xTicks).join("text")
  .attr("x",d=>x(d)).attr("y",1383).attr("text-anchor","middle").attr("font-size",FS)
  .attr("font-weight",d=>d.getUTCMonth()===0?700:400).attr("fill",TXT)
  .text(d=>d.getUTCMonth()===0?String(d.getUTCFullYear()):"Jul");

// Z / A buttons
[[78,"Z"],[2489,"A"]].forEach(([cx,t])=>{
  svg.append("circle").attr("cx",cx).attr("cy",1376).attr("r",17).attr("fill","#f0f3fa");
  svg.append("text").attr("x",cx).attr("y",1383).attr("text-anchor","middle").attr("font-size",19).attr("fill","#787b86").text(t);
});

// scale buttons
svg.append("rect").attr("x",26).attr("y",56).attr("width",106).attr("height",46).attr("rx",7).attr("fill","#fff").attr("stroke",BORDER).attr("stroke-width",1.2);
svg.append("text").attr("x",41).attr("y",86).attr("font-size",FS).attr("fill",TXT).text("JPY");
svg.append("rect").attr("x",2442).attr("y",56).attr("width",92).attr("height",46).attr("rx",7).attr("fill","#fff").attr("stroke",BORDER).attr("stroke-width",1.2);
svg.append("text").attr("x",2453).attr("y",86).attr("font-size",FS).attr("fill",TXT).text("%");

// legends
const l1 = svg.append("text").attr("x",155).attr("y",84).attr("font-size",FS).attr("fill",TXT);
l1.append("tspan").text("U.S. Dollar / Japanese Yen · 1D · OANDA");
l1.append("tspan").attr("dx",12).text("160.228");
l1.append("tspan").attr("dx",12).text("+0.258 (+0.16%)");
const l2 = svg.append("text").attr("x",155).attr("y",115).attr("font-size",FS).attr("fill",TXT);
l2.append("tspan").text("US05Y-JP05Y · TVC");
l2.append("tspan").attr("dx",12).attr("fill",BLUE).text("2.324%");
l2.append("tspan").attr("dx",12).attr("fill",BLUE).text("+0.062 (+2.74%)");
const l3 = svg.append("text").attr("x",155).attr("y",1049).attr("font-size",FS).attr("fill",TXT);
l3.append("tspan").text("RSI (14, close)");
l3.append("tspan").attr("dx",12).attr("fill",PURPLE).text("59.34");
l3.append("tspan").attr("dx",10).attr("fill","#f9c926").text("60.23");

// TradingView logo
const lg = svg.append("g").attr("transform","translate(22,1432) scale(1.5)");
lg.append("path").attr("d","M14 22H7V11H0V4h14v18z").attr("fill","#131722");
lg.append("path").attr("d","M28 22h-8l7.5-18h8L28 22z").attr("fill","#131722");
lg.append("circle").attr("cx",20).attr("cy",8).attr("r",4).attr("fill","#131722");
svg.append("text").attr("x",89).attr("y",1464).attr("font-size",35).attr("font-weight",700).attr("fill","#131722").attr("letter-spacing",-0.5).text("TradingView");
</script></body></html>
